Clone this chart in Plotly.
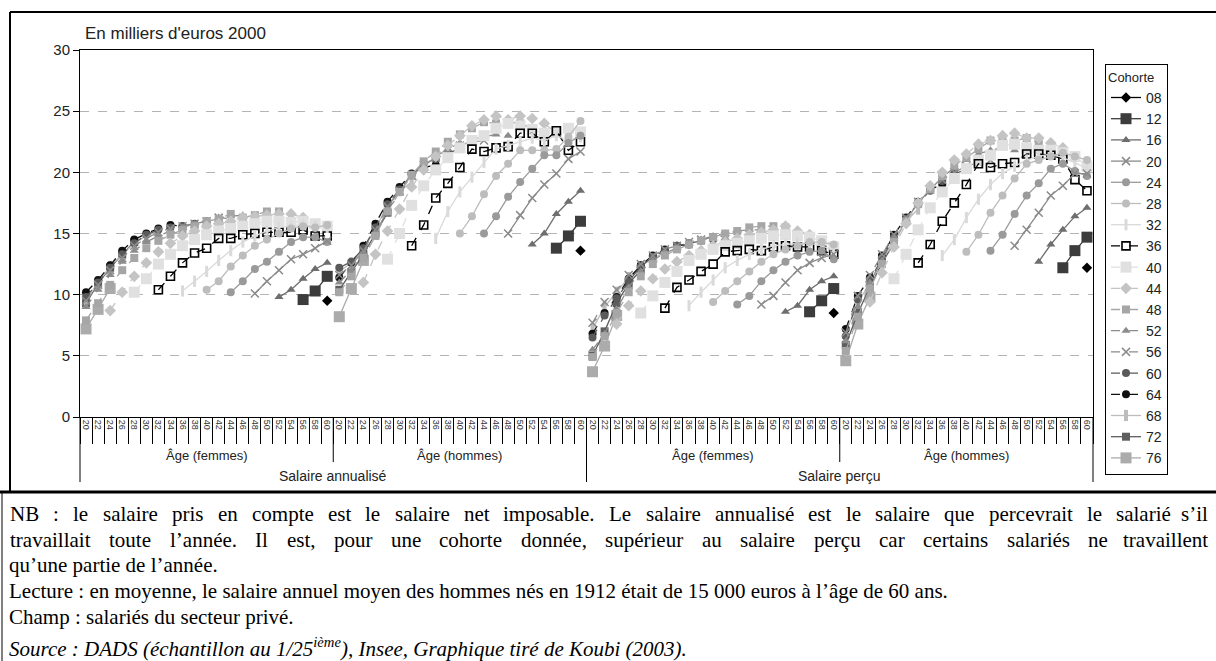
import plotly.graph_objects as go

# ---------------- data ----------------
AGES = list(range(20, 62, 2))  # 21 age categories per panel
SEX_LABELS = ["Âge (femmes)", "Âge (hommes)", "Âge (femmes)", "Âge (hommes)"]
SALARY_LABELS = ["Salaire annualisé", "Salaire perçu"]
COHORTS = ["08", "12", "16", "20", "24", "28", "32", "36", "40",
           "44", "48", "52", "56", "60", "64", "68", "72", "76"]
FIRST_AGE = {"08": 60, "12": 56, "16": 52, "20": 48, "24": 44, "28": 40, "32": 36,
             "36": 32, "40": 28, "44": 24, "48": 20, "52": 20, "56": 20, "60": 20,
             "64": 20, "68": 20, "72": 20, "76": 20}

annualise_femmes = {
    "08": [9.5],
    "12": [9.6, 10.3, 11.5],
    "16": [9.8, 10.4, 11.3, 12.1, 12.6],
    "20": [10.1, 11.1, 12.0, 12.9, 13.3, 13.8, 14.4],
    "24": [10.2, 11.1, 12.1, 12.7, 13.5, 14.3, 14.7, 14.7, 14.3],
    "28": [10.4, 11.1, 12.3, 13.2, 14.0, 14.5, 15.0, 15.4, 15.6, 15.5, 15.7],
    "32": [10.3, 11.1, 11.9, 12.8, 13.6, 14.3, 14.8, 15.2, 15.5, 15.6, 15.7, 15.6, 15.5],
    "36": [10.4, 11.5, 12.6, 13.4, 13.8, 14.6, 14.6, 14.9, 15.0, 15.1, 15.1, 15.1, 15.3, 14.8, 14.8],
    "40": [10.2, 11.3, 12.5, 13.3, 14.0, 14.5, 14.9, 15.2, 15.4, 15.6, 15.8, 16.0, 16.0, 15.9, 16.0, 15.8, 15.6],
    "44": [8.7, 10.2, 11.5, 12.6, 13.5, 14.2, 14.8, 15.2, 15.6, 15.8, 16.0, 16.3, 16.4, 16.5, 16.6, 16.6, 16.3],
    "48": [7.9, 9.3, 10.8, 12.0, 13.0, 13.8, 14.4, 14.9, 15.3, 15.6, 16.0, 16.2, 16.6, 16.3, 16.5, 16.8, 16.8],
    "52": [9.0, 10.4, 11.6, 12.7, 13.6, 14.3, 14.8, 15.2, 15.5, 15.8, 16.0, 16.3, 16.4, 16.5, 16.3],
    "56": [9.5, 10.8, 12.0, 13.0, 14.0, 14.6, 15.1, 15.4, 15.6, 15.8, 16.0, 16.3, 16.2],
    "60": [9.8, 11.0, 12.2, 13.3, 14.2, 14.9, 15.3, 15.5, 15.6, 15.8, 16.0],
    "64": [10.2, 11.2, 12.4, 13.6, 14.5, 15.0, 15.4, 15.7, 15.6],
    "68": [9.5, 11.0, 12.3, 13.3, 14.2, 14.8, 15.2],
    "72": [9.3, 10.9, 12.2, 13.3, 14.3],
    "76": [7.2, 8.8, 10.5],
}

annualise_hommes = {
    "08": [13.6],
    "12": [13.8, 14.8, 16.0],
    "16": [14.1, 15.0, 16.6, 17.6, 18.5],
    "20": [15.0, 16.5, 17.9, 19.0, 19.9, 21.1, 21.7],
    "24": [15.0, 16.4, 18.0, 19.2, 20.3, 21.4, 21.4, 22.4, 23.0],
    "28": [15.0, 16.4, 18.2, 19.7, 20.7, 21.8, 21.8, 21.8, 21.9, 22.9, 24.2],
    "32": [14.6, 16.8, 18.4, 19.6, 20.8, 21.9, 22.2, 22.5, 22.8, 22.6, 23.0, 22.6, 22.9],
    "36": [14.0, 15.7, 17.9, 19.1, 20.4, 21.9, 21.7, 22.0, 22.1, 23.2, 23.2, 22.5, 23.4, 21.8, 22.5],
    "40": [12.9, 15.0, 17.3, 18.9, 20.2, 21.2, 22.0, 22.6, 23.0, 23.6, 24.0, 23.8, 23.5, 23.2, 23.3, 23.6, 23.3],
    "44": [11.0, 13.3, 15.2, 17.0, 18.8, 20.2, 21.3, 22.2, 23.0, 23.8, 24.3, 24.6, 24.3, 24.6, 24.4, 24.0, 23.2],
    "48": [10.2, 11.5, 13.0, 14.8, 16.8, 18.4, 19.8, 20.9, 21.7, 22.5, 23.1, 23.6, 24.1, 24.0, 24.1, 24.0, 23.6],
    "52": [11.0, 12.0, 13.3, 15.0, 16.9, 18.3, 19.6, 20.5, 21.3, 21.9, 22.4, 22.7, 22.9, 23.1, 23.0],
    "56": [11.6, 12.4, 13.6, 15.3, 17.2, 18.5, 19.7, 20.6, 21.2, 21.8, 22.2, 22.5, 22.6],
    "60": [12.2, 12.7, 13.8, 15.5, 17.4, 18.6, 19.8, 20.6, 21.1, 21.6, 21.9],
    "64": [11.4, 12.6, 14.0, 15.8, 17.6, 18.8, 19.9, 20.4, 20.6],
    "68": [11.9, 12.6, 13.7, 15.4, 17.3, 18.5, 19.2],
    "72": [10.4, 11.8, 13.3, 15.0, 16.7],
    "76": [8.2, 10.5, 12.8],
}

percu_femmes = {
    "08": [8.5],
    "12": [8.6, 9.5, 10.5],
    "16": [8.6, 9.1, 10.4, 11.1, 11.5],
    "20": [9.2, 9.9, 11.0, 12.0, 12.6, 13.0, 13.3],
    "24": [9.2, 9.9, 11.1, 12.0, 12.7, 13.2, 13.5, 13.6, 12.9],
    "28": [9.4, 10.3, 11.1, 11.9, 12.7, 13.3, 13.7, 14.0, 14.3, 14.3, 14.1],
    "32": [9.1, 10.2, 11.2, 12.2, 12.8, 13.3, 13.7, 14.0, 14.1, 14.2, 14.2, 14.0, 13.6],
    "36": [8.9, 10.6, 11.2, 11.9, 12.5, 13.5, 13.6, 13.7, 13.6, 13.9, 14.0, 13.9, 13.9, 13.6, 13.3],
    "40": [8.5, 9.9, 11.0, 11.9, 12.8, 13.3, 13.7, 14.0, 14.2, 14.4, 14.6, 14.8, 14.9, 14.8, 14.7, 14.4, 13.9],
    "44": [7.6, 9.1, 10.3, 11.3, 12.1, 12.7, 13.2, 13.6, 14.0, 14.3, 14.6, 14.9, 15.1, 15.3, 15.6, 15.2, 14.9],
    "48": [4.9, 6.6, 8.5, 10.2, 11.5, 12.5, 13.2, 13.7, 14.1, 14.4, 14.7, 15.0, 15.2, 15.5, 15.6, 15.6, 15.5],
    "52": [5.5, 6.8, 8.8, 10.6, 11.9, 12.8, 13.4, 13.8, 14.2, 14.5, 14.8, 15.0, 15.2, 15.3, 15.3],
    "56": [7.7, 9.4, 10.4, 11.6, 12.5, 13.2, 13.7, 14.0, 14.3, 14.5, 14.7, 14.8, 14.9],
    "60": [6.5, 8.3, 9.7, 11.1, 12.3, 13.1, 13.6, 14.0, 14.2, 14.4, 14.5],
    "64": [6.8, 8.5, 9.8, 11.3, 12.4, 13.2, 13.7, 14.0, 14.1],
    "68": [7.2, 9.0, 10.2, 11.4, 12.3, 13.0, 13.4],
    "72": [5.0, 7.0, 9.3, 10.9, 12.0],
    "76": [3.7, 5.8, 8.3],
}

percu_hommes = {
    "08": [12.2],
    "12": [12.2, 13.6, 14.7],
    "16": [12.7, 14.1, 15.3, 16.4, 17.1],
    "20": [14.0, 15.3, 16.7, 18.1, 18.9, 19.9, 19.9],
    "24": [13.6, 14.9, 16.6, 18.1, 19.1, 20.3, 20.7, 20.1, 19.7],
    "28": [13.5, 14.9, 16.7, 18.1, 19.5, 20.7, 21.0, 21.3, 21.6, 21.3, 21.0],
    "32": [13.2, 14.5, 16.3, 17.8, 19.0, 19.9, 20.5, 21.0, 21.3, 21.5, 21.2, 20.8, 20.3],
    "36": [12.6, 14.1, 16.0, 17.5, 19.0, 20.7, 20.4, 20.7, 20.8, 21.5, 21.5, 21.4, 21.1, 19.4, 18.5],
    "40": [11.3, 13.3, 15.3, 17.1, 18.4, 19.5, 20.3, 21.0, 21.4, 22.2, 22.3, 22.0, 21.8, 21.8, 21.6, 21.3, 20.5],
    "44": [9.4, 11.8, 13.9, 15.8, 17.5, 18.9, 20.0, 21.0, 21.5, 22.3, 22.6, 23.0, 23.2, 22.8, 22.8, 22.4, 22.0],
    "48": [5.4, 8.2, 10.5, 12.5, 14.3, 16.0, 17.4, 18.6, 19.7, 20.6, 21.2, 21.9, 22.6, 22.5, 22.6, 22.8, 22.4],
    "52": [6.2, 9.0, 11.0, 12.8, 14.6, 16.1, 17.5, 18.6, 19.6, 20.4, 21.0, 21.5, 21.8, 22.0, 21.8],
    "56": [6.9, 9.9, 11.6, 13.3, 14.9, 16.3, 17.6, 18.6, 19.4, 20.0, 20.5, 20.8, 21.0],
    "60": [6.6, 9.6, 11.2, 13.0, 14.7, 16.2, 17.5, 18.5, 19.3, 19.9, 20.2],
    "64": [7.2, 9.9, 11.4, 13.2, 14.9, 16.3, 17.6, 18.6, 19.0],
    "68": [6.9, 9.3, 11.0, 12.8, 14.5, 16.0, 17.0],
    "72": [5.9, 8.5, 10.6, 12.6, 14.2],
    "76": [4.6, 7.6, 9.8],
}

PANELS = [annualise_femmes, annualise_hommes, percu_femmes, percu_hommes]

STYLE = {
    "08": dict(color="#000000", symbol="diamond", size=8, dash="solid", lw=0),
    "12": dict(color="#3c3c3c", symbol="square", size=11, dash="solid", lw=0),
    "16": dict(color="#6e6e6e", symbol="triangle-up", size=8, dash="solid", lw=0),
    "20": dict(color="#8a8a8a", symbol="x-thin-open", size=8, dash="solid", lw=1.5),
    "24": dict(color="#9a9a9a", symbol="circle", size=8, dash="solid", lw=0),
    "28": dict(color="#bdbdbd", symbol="circle", size=8, dash="solid", lw=0),
    "32": dict(color="#dadada", symbol="line-ns-open", size=8, dash="solid", lw=3),
    "36": dict(color="#000000", symbol="square-open", size=8, dash="dash", lw=1.6),
    "40": dict(color="#e0e0e0", symbol="square", size=11, dash="dash", lw=0),
    "44": dict(color="#c4c4c4", symbol="diamond", size=9, dash="dash", lw=0),
    "48": dict(color="#a6a6a6", symbol="square", size=8, dash="dash", lw=0),
    "52": dict(color="#8c8c8c", symbol="triangle-up", size=8, dash="dash", lw=0),
    "56": dict(color="#8c8c8c", symbol="x-thin-open", size=8, dash="dash", lw=1.5),
    "60": dict(color="#5a5a5a", symbol="circle", size=8, dash="dash", lw=0),
    "64": dict(color="#101010", symbol="circle", size=8, dash="dash", lw=0),
    "68": dict(color="#bcbcbc", symbol="line-ns-open", size=8, dash="solid", lw=4),
    "72": dict(color="#5e5e5e", symbol="square", size=8, dash="solid", lw=0),
    "76": dict(color="#ababab", symbol="square", size=11, dash="solid", lw=0),
}

# ---------------- geometry helpers (pixels -> paper) ----------------
W, H = 1216, 661
L, R, T, B = 80, 1093, 50, 417
NA = len(AGES)


def px_x(x):
    return (x - L) / (R - L)


def px_y(y):
    return (B - y) / (B - T)


fig = go.Figure()

for c in reversed(COHORTS):
    xs, ys = [], []
    i0 = AGES.index(FIRST_AGE[c])
    for g, panel in enumerate(PANELS):
        for k, v in enumerate(panel[c]):
            xs.append(g * NA + i0 + k)
            ys.append(v)
        xs.append(None)
        ys.append(None)
    s = STYLE[c]
    fig.add_trace(go.Scatter(
        x=xs, y=ys, name=c, mode="lines+markers",
        line=dict(color=s["color"], width=1.3, dash=s["dash"]),
        marker=dict(symbol=s["symbol"], size=s["size"], color=s["color"],
                    line=dict(width=s["lw"], color=s["color"])),
        connectgaps=False,
    ))

n_cat = NA * len(PANELS)
tickvals = list(range(n_cat))
ticktext = [str(a) for _ in PANELS for a in AGES]

fig.update_xaxes(
    range=[-0.5, n_cat - 0.5], tickmode="array", tickvals=tickvals, ticktext=ticktext,
    tickangle=90, tickfont=dict(size=9, color="#333", family="Liberation Sans"),
    ticks="", showline=True, linecolor="black", linewidth=1, mirror=True,
    showgrid=False, zeroline=False,
    minor=dict(tickmode="array", tickvals=[k - 0.5 for k in range(n_cat + 1)],
               ticks="outside", ticklen=26, tickcolor="black", tickwidth=1, showgrid=False),
)
fig.update_yaxes(
    range=[0, 30], tickmode="array", tickvals=[0, 5, 10, 15, 20, 25, 30],
    ticks="outside", ticklen=6, tickcolor="black",
    tickfont=dict(size=15, color="#222", family="Liberation Sans"),
    showline=True, linecolor="black", linewidth=1, mirror=True,
    showgrid=True, gridcolor="#b4b4b4", griddash="dash", gridwidth=1, zeroline=False,
)

shapes = []
# group dividers below the axis
for g in range(1, len(PANELS)):
    bottom = 482 if g % 2 == 0 else 462
    shapes.append(dict(type="line", xref="x", yref="paper", x0=g * NA - 0.5, x1=g * NA - 0.5,
                       y0=0, y1=px_y(bottom), line=dict(color="black", width=1)))
for xe in (0, 1):
    shapes.append(dict(type="line", xref="paper", yref="paper", x0=xe, x1=xe,
                       y0=0, y1=px_y(482), line=dict(color="black", width=1)))
# document frames
shapes.append(dict(type="line", xref="paper", yref="paper", x0=px_x(10), x1=px_x(1216),
                   y0=px_y(12), y1=px_y(12), line=dict(color="black", width=2)))
shapes.append(dict(type="line", xref="paper", yref="paper", x0=px_x(10), x1=px_x(10),
                   y0=px_y(12), y1=px_y(492), line=dict(color="black", width=2)))
shapes.append(dict(type="line", xref="paper", yref="paper", x0=px_x(0), x1=px_x(1216),
                   y0=px_y(492), y1=px_y(492), line=dict(color="black", width=3)))
shapes.append(dict(type="line", xref="paper", yref="paper", x0=px_x(2), x1=px_x(2),
                   y0=px_y(492), y1=px_y(661), line=dict(color="black", width=1)))

ann = []
SANS = "Liberation Sans"
ann.append(dict(text="En milliers d'euros 2000", xref="paper", yref="paper",
                x=px_x(83), y=px_y(33), xanchor="left", yanchor="middle", showarrow=False,
                font=dict(family=SANS, size=17, color="#222")))
for g, lab in enumerate(SEX_LABELS):
    ann.append(dict(text=lab, xref="x", yref="paper", x=g * NA + (NA - 1) / 2, y=px_y(456),
                    xanchor="center", yanchor="middle", showarrow=False,
                    font=dict(family=SANS, size=13, color="#222")))
for s_i, lab in enumerate(SALARY_LABELS):
    ann.append(dict(text=lab, xref="x", yref="paper", x=(2 * s_i + 1) * NA - 0.5, y=px_y(476),
                    xanchor="center", yanchor="middle", showarrow=False,
                    font=dict(family=SANS, size=14, color="#222")))

# ---- bottom note text (Times metrics for justification) ----
TW = {" ": 250, ",": 250, ".": 250, ":": 278, "’": 333, "'": 333, "(": 333, ")": 333, "/": 278,
      "a": 444, "b": 500, "c": 444, "d": 500, "e": 444, "f": 333, "g": 500, "h": 500, "i": 278,
      "j": 278, "k": 500, "l": 278, "m": 778, "n": 500, "o": 500, "p": 500, "q": 500, "r": 333,
      "s": 389, "t": 278, "u": 500, "v": 500, "w": 722, "x": 500, "y": 500, "z": 444,
      "é": 444, "è": 444, "à": 444, "â": 444, "ç": 444, "A": 722, "B": 667, "C": 667, "D": 722,
      "I": 333, "L": 611, "N": 722, "S": 556}
FS = 21
SERIF = "Liberation Serif"


def wwidth(w):
    return sum(TW.get(ch, 500) for ch in w) * FS / 1000


def justified(line, x0, x1, y):
    words = line.split(" ")
    widths = [wwidth(w) for w in words]
    gap = (x1 - x0 - sum(widths)) / (len(words) - 1)
    x = x0
    for k, w in enumerate(words):
        if k == len(words) - 1:
            ann.append(dict(text=w, xref="paper", yref="paper", x=px_x(x1), y=px_y(y),
                            xanchor="right", yanchor="middle", showarrow=False,
                            font=dict(family=SERIF, size=FS, color="black")))
        else:
            ann.append(dict(text=w, xref="paper", yref="paper", x=px_x(x), y=px_y(y),
                            xanchor="left", yanchor="middle", showarrow=False,
                            font=dict(family=SERIF, size=FS, color="black")))
        x += widths[k] + gap


def plain(line, y):
    ann.append(dict(text=line, xref="paper", yref="paper", x=px_x(7), y=px_y(y),
                    xanchor="left", yanchor="middle", showarrow=False,
                    font=dict(family=SERIF, size=FS, color="black")))


NOTE_1 = "NB : le salaire pris en compte est le salaire net imposable. Le salaire annualisé est le salaire que percevrait le salarié s’il"
NOTE_2 = "travaillait toute l’année. Il est, pour une cohorte donnée, supérieur au salaire perçu car certains salariés ne travaillent"
NOTE_3 = "qu’une partie de l’année."
NOTE_4 = "Lecture : en moyenne, le salaire annuel moyen des hommes nés en 1912 était de 15 000 euros à l’âge de 60 ans."
NOTE_5 = "Champ : salariés du secteur privé."
NOTE_6 = "<i>Source : DADS (échantillon au 1/25<sup>ième</sup>), Insee, Graphique tiré de Koubi (2003).</i>"

justified(NOTE_1, 8, 1210, 514)
justified(NOTE_2, 8, 1210, 540)
plain(NOTE_3, 565)
plain(NOTE_4, 591)
plain(NOTE_5, 617)
plain(NOTE_6, 647)

fig.update_layout(
    width=W, height=H, margin=dict(l=L, r=W - R, t=T, b=H - B, pad=0),
    paper_bgcolor="white", plot_bgcolor="white",
    shapes=shapes, annotations=ann,
    legend=dict(x=px_x(1105), y=px_y(64), xanchor="left", yanchor="top",
                bordercolor="black", borderwidth=1, bgcolor="white",
                font=dict(family=SANS, size=14, color="#222"),
                title=dict(text="Cohorte", font=dict(family=SANS, size=13, color="#222")),
                traceorder="reversed", itemwidth=30, maxheight=560),
    showlegend=True,
)

fig.write_html("out.html", config={"displayModeBar": False},
               post_script="document.body.style.margin='0px';"
               "document.body.style.padding='0px';document.body.style.overflow='hidden';")
